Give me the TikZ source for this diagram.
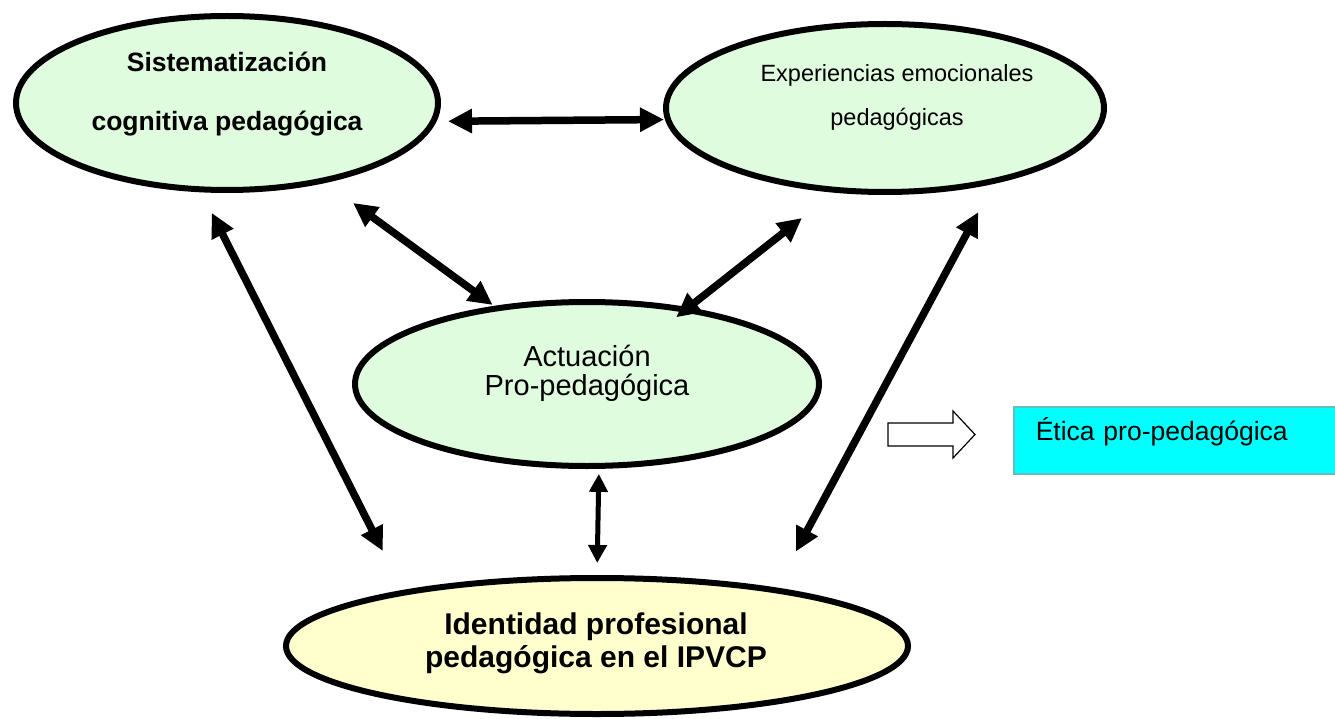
\documentclass[tikz,border=0pt]{standalone}
\usepackage{fontspec}
\setmainfont{Liberation Sans}
\usepackage{xcolor}
\usetikzlibrary{arrows.meta,shapes.geometric}
\definecolor{paleGreen}{RGB}{224,252,222}
\definecolor{paleYellow}{RGB}{255,255,206}
\definecolor{boxCyan}{RGB}{0,255,255}
\definecolor{boxEdge}{RGB}{100,190,190}
\tikzset{>={Triangle[length=24pt,width=23pt]},
  elli/.style={ellipse, draw=black, line width=6pt, fill=paleGreen, inner sep=0pt},
  bigarrow/.style={<->, line width=7.5pt},
  smallarrow/.style={{Triangle[length=18pt,width=18pt]}-{Triangle[length=18pt,width=18pt]}, line width=5pt},
  ellitext/.style={anchor=base, align=center, inner sep=0pt}}

\begin{document}
\begin{tikzpicture}[x=1pt, y=-1pt]
    \useasboundingbox[fill=white] (0,0) rectangle (1335,719);
    \node[elli, minimum width=422pt, minimum height=174pt] (sis) at (227,103) {};
    \node[elli, minimum width=438pt, minimum height=168pt] (exp) at (885,108) {};
    \node[elli, minimum width=464pt, minimum height=164pt] (act) at (587,384) {};
    \node[elli, fill=paleYellow, minimum width=622pt, minimum height=136pt] (ide) at (597,646) {};
    % base of a two-line node is its last line
    \node[ellitext, font=\bfseries\fontsize{26.5}{59}\selectfont] (sis-txt) at (227,131) {Sistematización\\cognitiva pedagógica};
    \node[ellitext, font=\fontsize{23.5}{44}\selectfont] (exp-txt) at (897,126) {Experiencias emocionales\\pedagógicas};
    \node[ellitext, font=\fontsize{29}{29}\selectfont] (act-txt) at (587,395) {Actuación\\Pro-pedagógica};
    \node[ellitext, font=\bfseries\fontsize{30}{33}\selectfont] (ide-txt) at (596,667) {Identidad profesional\\pedagógica en el IPVCP};
    \node[draw=boxEdge, line width=1.5pt, fill=boxCyan, anchor=north west, minimum height=67pt, text width=280pt,
      inner xsep=22pt, text depth=22pt, align=left, font=\fontsize{26.5}{31}\selectfont] (etica) at (1013,406) {Ética pro-pedagógica};
    \draw[bigarrow, shorten <=11.5pt, shorten >=1pt] (sis.-5.5) -- (exp.183.9);
    \draw[bigarrow, shorten <=34pt, shorten >=1.7pt] (sis.-39.4) -- (act.140.2);
    \draw[bigarrow, shorten <=-16pt, shorten >=41pt] (act.37.4) -- (exp.239.2);
    \draw[bigarrow, shorten <=23pt, shorten >=44pt] (sis.254.1) -- (ide.164.1);
    \draw[bigarrow, shorten <=32pt, shorten >=41pt] (exp.325) -- (ide.18.7);
    \draw[smallarrow, shorten <=5pt, shorten >=12pt] (act.-82.6) -- (ide.north);
    \draw[line width=1.2pt, fill=white] (888,423) -- (953,423) -- (953,411) -- (975,434.5)
      -- (953,458) -- (953,446) -- (888,446) -- cycle;
\end{tikzpicture}
\end{document}
